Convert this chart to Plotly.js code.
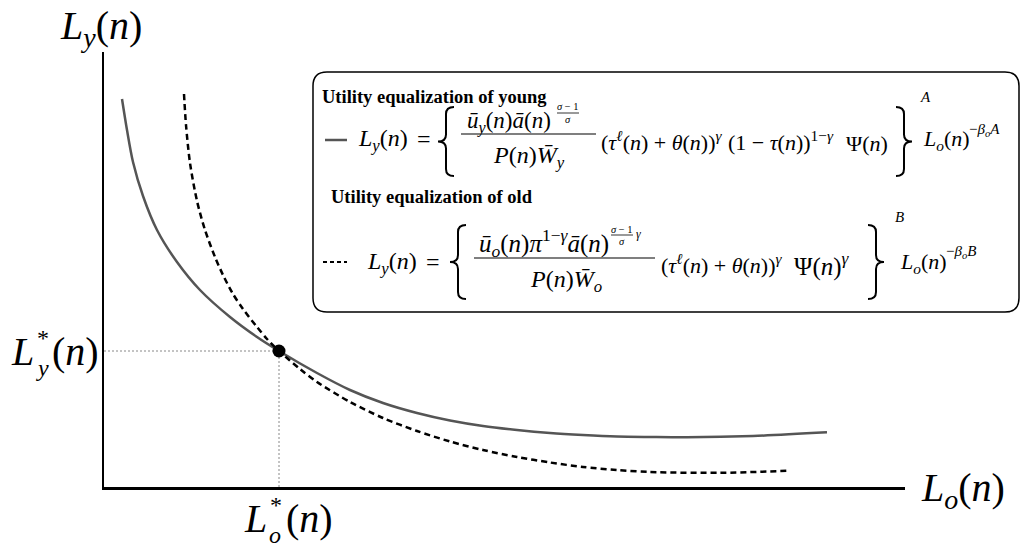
<!DOCTYPE html>
<html><head><meta charset="utf-8">
<script src="https://cdn.plot.ly/plotly-3.0.1.min.js"></script>
<style>html,body{margin:0;padding:0;background:#fff}</style>
</head><body>
<div id="chart" style="width:1029px;height:547px"></div>
<script>
// ---- data (arbitrary units) ----
const youngX = [0.18,0.23,0.29,0.39,0.53,0.73,0.96,1.26,1.53,1.75,2.13,2.46,2.79,3.13,3.46,3.79,4.13,4.46,4.79,5.13,5.46,5.83,6.49,7.23];
const youngY = [3.88,3.57,3.25,2.91,2.57,2.25,1.97,1.70,1.50,1.36,1.14,0.97,0.84,0.74,0.665,0.61,0.57,0.54,0.52,0.505,0.50,0.497,0.51,0.547];
const oldX = [0.80,0.82,0.86,0.93,1.01,1.11,1.19,1.29,1.39,1.53,1.63,1.75,1.96,2.13,2.46,2.79,3.13,3.46,3.79,4.13,4.46,4.79,5.13,5.46,6.16,6.86];
const oldY = [3.93,3.62,3.24,2.86,2.57,2.30,2.12,1.93,1.78,1.60,1.48,1.36,1.18,1.05,0.85,0.69,0.56,0.455,0.37,0.30,0.245,0.20,0.17,0.15,0.142,0.163];
const eqX = [1.75];
const eqY = [1.36];
const xRange = [0, 8.01];
const yRange = [0, 4.35];
const title1 = "Utility equalization of young";
const title2 = "Utility equalization of old";

// ---- geometry helpers (pixel -> paper) ----
const W = 1029, H = 547, ML = 104, MR = 124, MT = 52, MB = 60;
const PW = W - ML - MR, PH = H - MT - MB;
const px = x => (x - ML) / PW;
const py = y => (H - MB - y) / PH;
const FONT = '"Liberation Serif", "DejaVu Serif", serif';

const ann = [];
function T(text, x, y, size, anchor) {
  ann.push({
    text: text, xref: 'paper', yref: 'paper', x: px(x), y: py(y),
    xanchor: anchor || 'left', yanchor: 'middle', showarrow: false,
    font: {family: FONT, size: size, color: '#000'}, borderpad: 0
  });
}
const shapes = [];
function line(x0, y0, x1, y1, color, width, dash) {
  shapes.push({type: 'line', xref: 'paper', yref: 'paper',
    x0: px(x0), y0: py(y0), x1: px(x1), y1: py(y1),
    line: {color: color, width: width, dash: dash || 'solid'}});
}
function P(x, y) { return px(x).toFixed(5) + ',' + py(y).toFixed(5); }
function brace(xl, w, yt, yb, right) {
  const ym = (yt + yb) / 2, r = 7;
  const tip = right ? xl + w : xl, col = xl + w / 2, end = right ? xl : xl + w;
  const d = 'M' + P(end, yt) + ' Q' + P(col, yt) + ' ' + P(col, yt + r) +
    ' L' + P(col, ym - r) + ' Q' + P(col, ym) + ' ' + P(tip, ym) +
    ' Q' + P(col, ym) + ' ' + P(col, ym + r) +
    ' L' + P(col, yb - r) + ' Q' + P(col, yb) + ' ' + P(end, yb);
  shapes.push({type: 'path', xref: 'paper', yref: 'paper', path: d,
    line: {color: '#000', width: 2}});
}
function roundRect(x0, y0, x1, y1, r) {
  const d = 'M' + P(x0 + r, y0) + ' L' + P(x1 - r, y0) + ' Q' + P(x1, y0) + ' ' + P(x1, y0 + r) +
    ' L' + P(x1, y1 - r) + ' Q' + P(x1, y1) + ' ' + P(x1 - r, y1) +
    ' L' + P(x0 + r, y1) + ' Q' + P(x0, y1) + ' ' + P(x0, y1 - r) +
    ' L' + P(x0, y0 + r) + ' Q' + P(x0, y0) + ' ' + P(x0 + r, y0) + ' Z';
  shapes.push({type: 'path', xref: 'paper', yref: 'paper', path: d,
    line: {color: '#000', width: 1.5}, fillcolor: 'rgba(255,255,255,0)'});
}

// ---- axis labels ----
const LBL = 40;
T('<i>L</i><sub><i>y</i></sub>(<i>n</i>)', 101, 28, LBL, 'center');
T('<i>L</i><sub><i>o</i></sub>(<i>n</i>)', 920, 490, LBL, 'left');
// L_y*(n)
T('<i>L</i>', 35, 351, LBL, 'right');
T('*', 36, 338, 24, 'left');
T('<i>y</i>', 35, 368, 24, 'left');
T('(<i>n</i>)', 51, 351, LBL, 'left');
// L_o*(n)
T('<i>L</i>', 268, 518, LBL, 'right');
T('*', 269, 505, 24, 'left');
T('<i>o</i>', 268, 535, 24, 'left');
T('(<i>n</i>)', 285, 518, LBL, 'left');

// ---- legend box ----
roundRect(313, 72, 1019, 312, 14);
T('<b>' + title1 + '</b>', 321, 97, 18.5, 'left');
T('<b>' + title2 + '</b>', 330, 197, 18.5, 'left');

const LHS = 24, NUM = 23, GRP = 22, SUPS = 15, TINY = 10.5;
// row 1 (young)
line(325, 140, 347, 140, '#555555', 2.5);
T('<i>L</i><sub><i>y</i></sub>(<i>n</i>)', 357, 140, LHS);
T('=', 416, 139, LHS);
brace(438, 16, 107, 176, false);
T('<i>ū</i><sub><i>y</i></sub>(<i>n</i>)<i>ā</i>(<i>n</i>)', 466, 122, NUM);
T('<i>σ</i> − 1', 568, 107, TINY, 'center');
line(557, 113, 579, 113, '#000', 0.8);
T('<i>σ</i>', 568, 119, TINY, 'center');
line(461, 134, 596, 134, '#000', 1.2);
T('<i>P</i>(<i>n</i>)<i>W\u0304</i><sub><i>y</i></sub>', 529, 157, 24, 'center');
T('(<i>τ</i><sup><i>ℓ</i></sup>(<i>n</i>) + <i>θ</i>(<i>n</i>))<sup><i>γ</i></sup>', 600, 141, GRP);
T('(1 − <i>τ</i>(<i>n</i>))<sup>1−<i>γ</i></sup>', 727, 141, GRP);
T('Ψ(<i>n</i>)', 845, 143, GRP);
brace(896, 16, 107, 176, true);
T('<i>A</i>', 919, 97, SUPS);
T('<i>L</i><sub><i>o</i></sub>(<i>n</i>)', 922, 140, GRP);
T('−<i>β</i><sub><i>o</i></sub><i>A</i>', 968, 130, SUPS);

// row 2 (old)
line(323, 262, 347, 262, '#000', 2, '4px,3px');
T('<i>L</i><sub><i>y</i></sub>(<i>n</i>)', 366, 263, LHS);
T('=', 425, 262, LHS);
brace(450, 16, 225, 299, false);
T('<i>ū</i><sub><i>o</i></sub>(<i>n</i>)<i>π</i><sup>1−<i>γ</i></sup><i>ā</i>(<i>n</i>)', 478, 243, 25);
T('<i>σ</i> − 1', 622, 229, TINY, 'center');
line(611, 235, 633, 235, '#000', 0.8);
T('<i>σ</i>', 622, 241, TINY, 'center');
T('<i>γ</i>', 635, 234, 12);
line(474, 258, 655, 258, '#000', 1.2);
T('<i>P</i>(<i>n</i>)<i>W\u0304</i><sub><i>o</i></sub>', 566, 281, 24, 'center');
T('(<i>τ</i><sup><i>ℓ</i></sup>(<i>n</i>) + <i>θ</i>(<i>n</i>))<sup><i>γ</i></sup>', 660, 264, GRP);
T('Ψ(<i>n</i>)<sup><i>γ</i></sup>', 793, 264, 25);
brace(868, 16, 225, 299, true);
T('<i>B</i>', 894, 217, SUPS);
T('<i>L</i><sub><i>o</i></sub>(<i>n</i>)', 899, 263, GRP);
T('−<i>β</i><sub><i>o</i></sub><i>B</i>', 945, 252, SUPS);

// ---- traces ----
const traces = [
  {x: [0, eqX[0]], y: [eqY[0], eqY[0]], mode: 'lines', line: {color: '#888', width: 1, dash: '2px,2px'}, hoverinfo: 'skip'},
  {x: [eqX[0], eqX[0]], y: [0, eqY[0]], mode: 'lines', line: {color: '#888', width: 1, dash: '2px,2px'}, hoverinfo: 'skip'},
  {x: youngX, y: youngY, mode: 'lines', line: {color: '#555555', width: 2.5, shape: 'spline', smoothing: 0.8}, name: title1},
  {x: oldX, y: oldY, mode: 'lines', line: {color: '#000', width: 2.5, shape: 'spline', smoothing: 0.8, dash: '6px,4px'}, name: title2},
  {x: eqX, y: eqY, mode: 'markers', marker: {color: '#000', size: 13}}
];

const layout = {
  width: W, height: H, autosize: false,
  margin: {l: ML, r: MR, t: MT, b: MB, pad: 0},
  paper_bgcolor: '#fff', plot_bgcolor: '#fff',
  showlegend: false,
  xaxis: {range: xRange, showline: true, linecolor: '#000', linewidth: 3, showgrid: false, zeroline: false, showticklabels: false, ticks: '', fixedrange: true},
  yaxis: {range: yRange, showline: true, linecolor: '#000', linewidth: 2, showgrid: false, zeroline: false, showticklabels: false, ticks: '', fixedrange: true},
  annotations: ann, shapes: shapes,
  font: {family: FONT}
};
Plotly.newPlot('chart', traces, layout, {displayModeBar: false, staticPlot: true});
</script>
</body></html>
